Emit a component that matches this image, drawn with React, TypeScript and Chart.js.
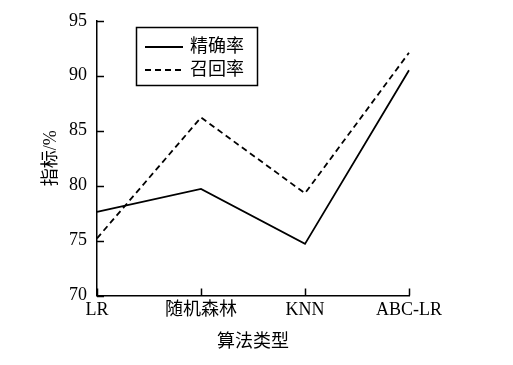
import React, { useEffect, useRef } from "react";
import { Chart, registerables } from "chart.js";

Chart.register(...registerables);

const categories = ["LR", "随机森林", "KNN", "ABC-LR"];
const precision = [77.6, 79.7, 74.7, 90.5];
const recall = [75.2, 86.2, 79.3, 92.1];
const seriesNames = ["精确率", "召回率"];
const yTicks = [70, 75, 80, 85, 90, 95];
const xTitle = "算法类型";
const yTitle = "指标/%";

const FONT = "'Liberation Serif', 'Noto Sans CJK SC', serif";

const innerTicks = {
  id: "innerTicks",
  afterDraw(chart: any) {
    const { ctx, chartArea, scales } = chart;
    ctx.save();
    ctx.strokeStyle = "#000";
    ctx.lineWidth = 1.5;
    const y = scales.y;
    yTicks.forEach((v) => {
      const py = Math.round(y.getPixelForValue(v)) + 0.5;
      ctx.beginPath();
      ctx.moveTo(chartArea.left, py);
      ctx.lineTo(chartArea.left + 7, py);
      ctx.stroke();
    });
    const x = scales.x;
    categories.forEach((_, i) => {
      const px = Math.round(x.getPixelForValue(i)) + 0.5;
      ctx.beginPath();
      ctx.moveTo(px, chartArea.bottom);
      ctx.lineTo(px, chartArea.bottom - 7);
      ctx.stroke();
    });
    ctx.restore();
  },
};

const boxLegend = {
  id: "boxLegend",
  afterDraw(chart: any) {
    const { ctx } = chart;
    ctx.save();
    ctx.strokeStyle = "#000";
    ctx.lineWidth = 1.5;
    ctx.strokeRect(136.5, 27.5, 121, 58);
    const rows = [47, 70];
    chart.data.datasets.forEach((ds: any, i: number) => {
      const yy = rows[i];
      ctx.beginPath();
      ctx.setLineDash(ds.borderDash || []);
      ctx.lineWidth = ds.borderWidth;
      ctx.strokeStyle = ds.borderColor;
      ctx.moveTo(145, yy);
      ctx.lineTo(183, yy);
      ctx.stroke();
      ctx.setLineDash([]);
      ctx.fillStyle = "#000";
      ctx.font = "18px " + FONT;
      ctx.textBaseline = "middle";
      ctx.textAlign = "left";
      ctx.fillText(ds.label, 190, yy);
    });
    ctx.restore();
  },
};

export default function App() {
  const ref = useRef<HTMLCanvasElement>(null);
  useEffect(() => {
    if (!ref.current) return;
    const chart = new Chart(ref.current, {
      type: "line",
      data: {
        labels: categories,
        datasets: [
          {
            label: seriesNames[0],
            data: precision,
            borderColor: "#000",
            borderWidth: 1.8,
            pointRadius: 0,
            tension: 0,
            fill: false,
          },
          {
            label: seriesNames[1],
            data: recall,
            borderColor: "#000",
            borderWidth: 1.8,
            borderDash: [6, 4],
            pointRadius: 0,
            tension: 0,
            fill: false,
          },
        ],
      },
      options: {
        responsive: false,
        animation: false,
        layout: { padding: { left: 0, top: 19, right: 104, bottom: 0 } },
        plugins: { legend: { display: false }, tooltip: { enabled: false } },
        scales: {
          x: {
            type: "category",
            offset: false,
            grid: { display: false, drawTicks: false },
            border: { display: true, color: "#000", width: 1.5 },
            ticks: {
              color: "#000",
              padding: 4,
              maxRotation: 0,
              autoSkip: false,
              font: { family: FONT, size: 18 },
            },
            title: {
              display: true,
              text: xTitle,
              color: "#000",
              font: { family: FONT, size: 18 },
              padding: { top: 0, bottom: 12 },
            },
            afterFit(scale: any) {
              scale.height = 69.5;
            },
          },
          y: {
            min: 70,
            max: 95,
            grid: { display: false, drawTicks: false },
            border: { display: true, color: "#000", width: 1.5 },
            ticks: {
              stepSize: 5,
              color: "#000",
              padding: 10,
              font: { family: FONT, size: 18 },
            },
            title: {
              display: true,
              text: yTitle,
              color: "#000",
              font: { family: FONT, size: 18 },
              padding: { top: 40, bottom: 0 },
            },
            afterFit(scale: any) {
              scale.width = 97;
            },
          },
        },
      },
      plugins: [innerTicks, boxLegend],
    });
    return () => chart.destroy();
  }, []);
  return (
    <div style={{ position: "fixed", left: 0, top: 0, width: 513, height: 365, background: "#fff" }}>
      <canvas ref={ref} width={513} height={365} />
    </div>
  );
}
